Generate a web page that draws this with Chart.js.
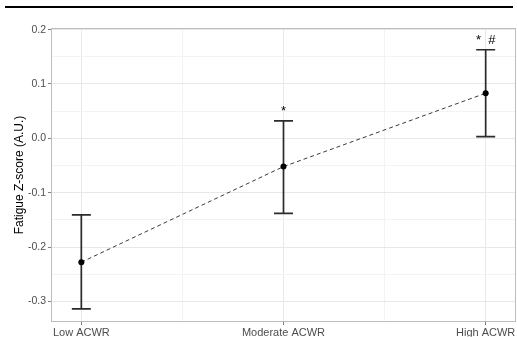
<!DOCTYPE html>
<html>
<head>
<meta charset="utf-8">
<script src="https://cdn.jsdelivr.net/npm/chart.js@4.4.1/dist/chart.umd.min.js"></script>
<style>
  html, body { margin: 0; padding: 0; background: #fff; }
  #wrap { position: relative; width: 517px; height: 337px; }
  #rule { position: absolute; left: 5px; top: 6px; width: 508px; height: 2px; background: #000; }
  canvas { position: absolute; left: 0; top: 0; }
</style>
</head>
<body>
<div id="wrap">
  <canvas id="fatigueChart" width="517" height="337"></canvas>
  <div id="rule"></div>
</div>
<script>
// Data
const categories = ['Low ACWR', 'Moderate ACWR', 'High ACWR'];
const meanZ = [-0.228, -0.052, 0.083];
const upperZ = [-0.141, 0.032, 0.163];
const lowerZ = [-0.314, -0.138, 0.003];
const marks = ['', '*', '*  #'];
const yTicks = [-0.3, -0.25, -0.2, -0.15, -0.1, -0.05, 0, 0.05, 0.1, 0.15, 0.2];
const yLabels = ['-0.3', '', '-0.2', '', '-0.1', '', '0.0', '', '0.1', '', '0.2'];
const xTicks = [1, 1.5, 2, 2.5, 3];

const font = '"Liberation Sans", Arial, Helvetica, sans-serif';
const majorGrid = '#e8e8e8';
const minorGrid = '#f3f3f3';

// error bars, significance marks and panel border
const errorBars = {
    id: 'errorBars',
    beforeDatasetsDraw(chart) {
        const { ctx, chartArea, scales: { x, y } } = chart;
        ctx.save();
        ctx.strokeStyle = '#bdbdbd';
        ctx.lineWidth = 1;
        ctx.strokeRect(chartArea.left + 0.5, chartArea.top + 0.5,
            chartArea.right - chartArea.left - 1, chartArea.bottom - chartArea.top - 1);

        ctx.strokeStyle = '#2b2b2b';
        ctx.lineWidth = 1.7;
        meanZ.forEach((m, i) => {
            const px = x.getPixelForValue(i + 1);
            const top = y.getPixelForValue(upperZ[i]);
            const bot = y.getPixelForValue(lowerZ[i]);
            ctx.beginPath();
            ctx.moveTo(px, top); ctx.lineTo(px, bot);
            ctx.moveTo(px - 9.5, top); ctx.lineTo(px + 9.5, top);
            ctx.moveTo(px - 9.5, bot); ctx.lineTo(px + 9.5, bot);
            ctx.stroke();

            if (marks[i]) {
                ctx.fillStyle = '#000';
                ctx.font = '13px ' + font;
                ctx.textAlign = 'center';
                ctx.textBaseline = 'alphabetic';
                ctx.fillText(marks[i], px, top - 6);
            }
        });
        ctx.restore();
    }
};

const ctx = document.getElementById('fatigueChart').getContext('2d');

const fatigueChart = new Chart(ctx, {
    type: 'line',
    data: {
        datasets: [{
            data: meanZ.map((v, i) => ({ x: i + 1, y: v })),
            borderColor: '#3a3a3a',
            borderWidth: 1,
            borderDash: [4, 3],
            pointRadius: 3,
            pointBackgroundColor: '#000',
            pointBorderColor: '#000',
            pointBorderWidth: 0,
            tension: 0
        }]
    },
    options: {
        responsive: false,
        devicePixelRatio: 1,
        animation: false,
        layout: {
            autoPadding: false,
            padding: { top: 28, right: 1, left: 0, bottom: 0 }
        },
        plugins: {
            legend: { display: false },
            tooltip: { enabled: false }
        },
        scales: {
            x: {
                type: 'linear',
                min: 0.85,
                max: 3.15,
                afterBuildTicks: scale => { scale.ticks = xTicks.map(v => ({ value: v })); },
                afterFit: scale => { scale.height = 15; },
                border: { display: false },
                grid: {
                    color: c => Number.isInteger(c.tick.value) ? majorGrid : minorGrid,
                    lineWidth: 1,
                    drawTicks: true,
                    tickLength: 3,
                    tickColor: c => Number.isInteger(c.tick.value) ? '#7f7f7f' : 'transparent'
                },
                ticks: {
                    autoSkip: false,
                    maxRotation: 0,
                    padding: 1,
                    color: '#4d4d4d',
                    font: { family: font, size: 11 },
                    callback: v => Number.isInteger(v) ? categories[v - 1] : ''
                }
            },
            y: {
                type: 'linear',
                min: -0.338,
                max: 0.203,
                afterBuildTicks: scale => { scale.ticks = yTicks.map(v => ({ value: v })); },
                afterFit: scale => { scale.width = 51; },
                border: { display: false },
                grid: {
                    color: c => yLabels[c.index] ? majorGrid : minorGrid,
                    lineWidth: 1,
                    drawTicks: true,
                    tickLength: 3,
                    tickColor: c => yLabels[c.index] ? '#7f7f7f' : 'transparent'
                },
                ticks: {
                    padding: 2,
                    color: '#4d4d4d',
                    font: { family: font, size: 10.5 },
                    callback: (v, i) => yLabels[i]
                },
                title: {
                    display: true,
                    text: 'Fatigue Z-score (A.U.)',
                    color: '#000',
                    font: { family: font, size: 12 },
                    padding: { top: 12, bottom: 0 }
                }
            }
        }
    },
    plugins: [errorBars]
});
</script>
</body>
</html>
